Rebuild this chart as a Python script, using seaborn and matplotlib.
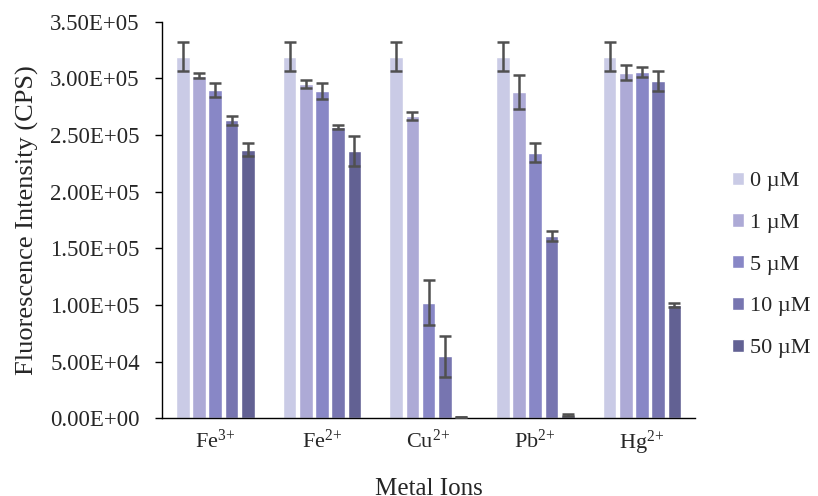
import numpy as np
import pandas as pd
import seaborn as sns
import matplotlib.pyplot as plt
from matplotlib.ticker import FuncFormatter, FixedLocator

ions = [r"Fe$^{3\!+}$", r"Fe$^{2\!+}$", r"Cu$^{2\!+}$", r"Pb$^{2\!+}$", r"Hg$^{2\!+}$"]
concs = ["0 µM", "1 µM", "5 µM", "10 µM", "50 µM"]

# fluorescence intensity (CPS), one list per concentration, ion order as above
cps_0 = [3.19e5, 3.19e5, 3.19e5, 3.19e5, 3.19e5]
cps_1 = [3.025e5, 2.95e5, 2.665e5, 2.88e5, 3.05e5]
cps_5 = [2.90e5, 2.89e5, 1.02e5, 2.345e5, 3.06e5]
cps_10 = [2.63e5, 2.57e5, 0.545e5, 1.61e5, 2.98e5]
cps_50 = [2.37e5, 2.36e5, 1.0e3, 2.7e3, 0.998e5]

err_0 = [1.28e4, 1.28e4, 1.28e4, 1.28e4, 1.28e4]
err_1 = [2.5e3, 3.2e3, 3.5e3, 1.52e4, 6.8e3]
err_5 = [6.0e3, 6.8e3, 2.0e4, 8.5e3, 4.4e3]
err_10 = [3.8e3, 1.8e3, 1.84e4, 4.4e3, 8.8e3]
err_50 = [5.7e3, 1.3e4, 3.0e2, 8.0e2, 1.8e3]

colors = ["#cacbe6", "#adaad6", "#8887c6", "#7775b0", "#626193"]

values = [cps_0, cps_1, cps_5, cps_10, cps_50]
errors = [err_0, err_1, err_5, err_10, err_50]

rows = []
for c, vals in zip(concs, values):
    for ion, v in zip(ions, vals):
        rows.append({"ion": ion, "conc": c, "cps": v})
df = pd.DataFrame(rows)

sns.set_style("white")
plt.rcParams["font.family"] = ["Liberation Serif", "DejaVu Serif"]
plt.rcParams["mathtext.fontset"] = "custom"
plt.rcParams["mathtext.rm"] = "Liberation Serif"
plt.rcParams["mathtext.it"] = "Liberation Serif:italic"
plt.rcParams["mathtext.default"] = "regular"

fig = plt.figure(figsize=(8.18, 4.96), dpi=100)
ax = fig.add_axes([0.198, 0.157, 0.652, 0.799])

sns.barplot(data=df, x="ion", y="cps", hue="conc", hue_order=concs,
            palette=colors, saturation=1, width=0.76, gap=0.16,
            errorbar=None, ax=ax, legend=True)

# error bars placed on the seaborn bar centres
for cont, errs in zip(ax.containers, errors):
    xs = [p.get_x() + p.get_width() / 2 for p in cont.patches]
    hs = [p.get_height() for p in cont.patches]
    ax.errorbar(xs, hs, yerr=errs, fmt="none", ecolor="#505050",
                elinewidth=1.8, capsize=4.6, capthick=1.8, zorder=5)

ax.set_ylim(0, 3.5e5)
ax.set_xlim(-0.5, 4.5)
ax.yaxis.set_major_locator(FixedLocator(np.arange(0, 3.51e5, 0.5e5)))
ax.yaxis.set_major_formatter(FuncFormatter(lambda v, p: f"{v:.2E}"))
ax.set_xticks(np.arange(-0.5, 5.0, 1.0), minor=True)
ax.tick_params(axis="x", which="major", length=0, labelsize=16, pad=8)
ax.tick_params(axis="x", which="minor", length=5, width=1, color="black", direction="out")
ax.tick_params(axis="y", which="major", length=5, width=1, color="black",
               direction="out", labelsize=16.5, left=True, pad=11)

for s in ["top", "right"]:
    ax.spines[s].set_visible(False)
for s in ["left", "bottom"]:
    ax.spines[s].set_color("black")
    ax.spines[s].set_linewidth(1)

ax.set_ylabel("Fluorescence Intensity (CPS)", fontsize=19, labelpad=8)
ax.set_xlabel("Metal Ions", fontsize=18, labelpad=15)

ax.legend(title=None, frameon=False, fontsize=16, loc="center left",
          bbox_to_anchor=(0.895, 0.466), bbox_transform=fig.transFigure,
          handlelength=0.55, handleheight=0.55, handletextpad=0.25,
          labelspacing=1.0, borderaxespad=0, borderpad=0)

fig.savefig("out.png", dpi=100)
